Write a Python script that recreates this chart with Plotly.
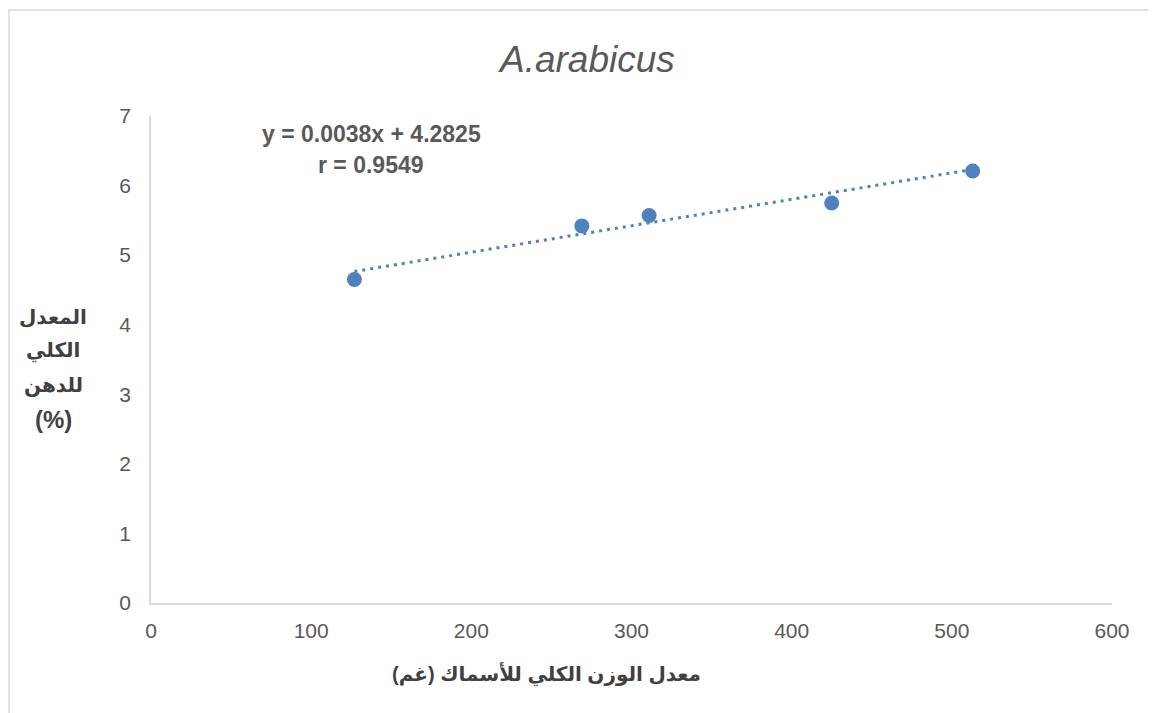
import plotly.graph_objects as go

# Data
weight_g = [127, 269, 311, 425, 513]
fat_pct = [4.65, 5.42, 5.57, 5.75, 6.21]
slope = 0.0038
intercept = 4.2825
r_value = 0.9549
chart_title = "A.arabicus"
x_title = "معدل الوزن الكلي للأسماك (غم)"
y_title_lines = ["المعدل", "الكلي", "للدهن", "(%)"]

blue = "#4F81BD"
grey_text = "#595959"

trend_x = [min(weight_g), max(weight_g)]
trend_y = [slope * v + intercept for v in trend_x]

fig = go.Figure()
fig.add_trace(go.Scatter(x=trend_x, y=trend_y, mode="lines",
                         line=dict(color=blue, width=3, dash="3px,5px"),
                         hoverinfo="skip", showlegend=False))
fig.add_trace(go.Scatter(x=weight_g, y=fat_pct, mode="markers",
                         marker=dict(color=blue, size=15),
                         showlegend=False))


def px(xp):
    return (xp - 150) / 961


def py(yp):
    return (602 - yp) / 487


annotations = [
    dict(text=f"<i>{chart_title}</i>", x=px(585), y=py(58),
         font=dict(size=37, color=grey_text)),
    dict(text=f"<b>y = {slope}x + {intercept}</b>", x=px(370), y=py(133),
         font=dict(size=23, color=grey_text)),
    dict(text=f"<b>r = {r_value}</b>", x=px(370), y=py(164),
         font=dict(size=23, color=grey_text)),
    dict(text=f"<b>{x_title}</b>", x=px(545), y=py(673),
         font=dict(size=20, color="#404040")),
]
y_title_pos = [316, 350, 384, 419]
for line, yp in zip(y_title_lines, y_title_pos):
    annotations.append(dict(text=f"<b>{line}</b>", x=px(52), y=py(yp),
                            font=dict(size=24 if line == "(%)" else 20, color="#404040")))
for a in annotations:
    a.update(xref="paper", yref="paper", showarrow=False,
             xanchor="center", yanchor="middle")

fig.update_layout(
    width=1156, height=713,
    margin=dict(l=143, r=52, t=108, b=118),
    paper_bgcolor="white", plot_bgcolor="white",
    font=dict(family="Arial, DejaVu Sans", color=grey_text),
    xaxis=dict(range=[0, 600], dtick=100, showgrid=False, zeroline=False,
               showline=True, linecolor="#D9D9D9", linewidth=1.5,
               ticks="", tickfont=dict(size=21, color=grey_text), ticklabelstandoff=8),
    yaxis=dict(range=[0, 7], dtick=1, showgrid=False, zeroline=False,
               showline=True, linecolor="#D9D9D9", linewidth=1.5,
               ticks="", tickfont=dict(size=21, color=grey_text), ticklabelstandoff=14),
    shapes=[dict(type="rect", xref="paper", yref="paper",
                 x0=-0.1478, x1=1.2, y0=-0.4, y1=1.2177,
                 line=dict(color="#D9D9D9", width=1.5), layer="below")],
    annotations=annotations,
)

fig.write_html("out.html")
